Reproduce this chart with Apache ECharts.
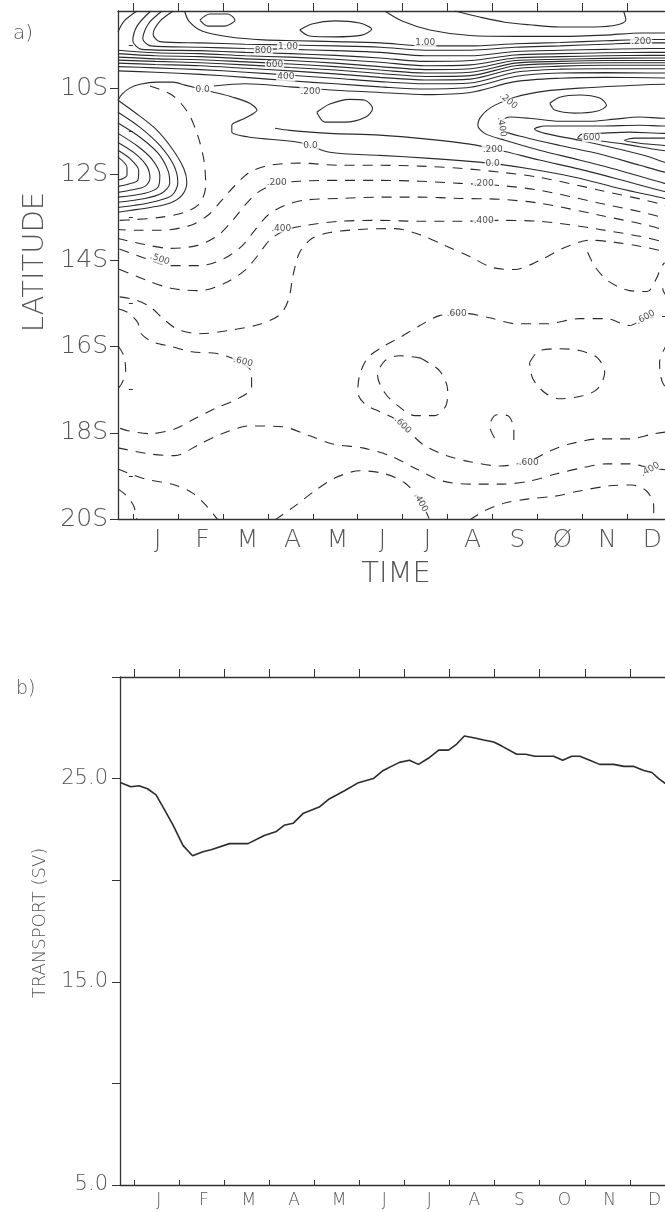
<!DOCTYPE html>
<html>
<head>
<meta charset="UTF-8">
<title>Latitude-time section and transport</title>
<script src="https://cdn.jsdelivr.net/npm/echarts@6/dist/echarts.min.js"></script>
<style>
  html, body { margin: 0; padding: 0; background: #fff; }
  #chart { width: 665px; height: 1212px; }
</style>
</head>
<body>
<div id="chart"></div>
<script>
// axes
var monthsA = ['J', 'F', 'M', 'A', 'M', 'J', 'J', 'A', 'S', 'Ø', 'N', 'D'];
var monthsB = ['J', 'F', 'M', 'A', 'M', 'J', 'J', 'A', 'S', 'O', 'N', 'D'];
var monthTicks = [0, 1, 2, 3, 4, 5, 6, 7, 8, 9, 10, 11];
var monthMids = [0.55, 1.55, 2.55, 3.55, 4.55, 5.55, 6.55, 7.55, 8.55, 9.55, 10.55, 11.55];
var latLabels = [10, 12, 14, 16, 18, 20];
var latMinor = [9, 11, 13, 15, 17, 19];
var transportTicks = [5, 10, 15, 20, 25, 30];
var transportLabels = [5, 15, 25];

// panel a, contours as [month, degrees south]
var topLines = [
  [[-0.33, 8.7], [-0.2, 8.45], [0.09, 8.21]],
  [[1.49, 8.42], [1.71, 8.28], [2.11, 8.28], [2.27, 8.42], [2.04, 8.56], [1.67, 8.56], [1.49, 8.42]],
  [[3.71, 8.65], [3.98, 8.51], [4.49, 8.44], [5.04, 8.49], [5.31, 8.63], [5.09, 8.77], [4.49, 8.81], [3.93, 8.79], [3.71, 8.65]],
  [[7.16, 8.21], [7.71, 8.35], [8.27, 8.47], [8.82, 8.53], [9.49, 8.58], [10.27, 8.58], [10.78, 8.53], [10.96, 8.42], [10.91, 8.21]],
  [[5.6, 8.21], [6.0, 8.45], [6.6, 8.65], [7.5, 8.78], [8.5, 8.8], [9.5, 8.8], [10.5, 8.77], [11.3, 8.72], [12.3, 8.72]],
  [[1.15, 8.21], [1.25, 8.45], [1.55, 8.68], [2.2, 8.82], [2.9, 8.88], [3.6, 8.9], [4.5, 8.92], [5.5, 8.95], [6.5, 9.02], [7.5, 9.02], [8.5, 8.97], [9.5, 8.94], [10.5, 8.9], [11.5, 8.87], [12.3, 8.87]]
];

var bandLines = [
  [[0.9, 8.21], [0.6, 8.45], [0.45, 8.75], [0.6, 8.92], [1.5, 8.95], [2.5, 8.98], [3.5, 9.0], [4.5, 9.02], [5.5, 9.05], [6.5, 9.12], [7.5, 9.12], [8.5, 9.05], [9.5, 9.02], [10.5, 8.98], [11.5, 8.95], [12.3, 8.95]],
  [[0.65, 8.21], [0.35, 8.5], [0.22, 8.85], [0.4, 9.02], [1.5, 9.05], [2.5, 9.08], [3.5, 9.1], [4.5, 9.13], [5.5, 9.17], [6.5, 9.25], [7.5, 9.25], [8.5, 9.15], [9.5, 9.12], [10.5, 9.1], [11.5, 9.08], [12.3, 9.08]],
  [[0.4, 8.21], [0.1, 8.55], [0.0, 8.9], [0.2, 9.1], [1.5, 9.13], [2.5, 9.17], [3.5, 9.2], [4.5, 9.24], [5.5, 9.3], [6.5, 9.38], [7.5, 9.36], [8.5, 9.23], [9.5, 9.2], [10.5, 9.18], [11.5, 9.17], [12.3, 9.17]],
  [[-0.33, 9.12], [0.5, 9.18], [1.5, 9.2], [2.5, 9.25], [3.5, 9.28], [4.5, 9.33], [5.5, 9.4], [6.5, 9.48], [7.5, 9.46], [8.5, 9.3], [9.5, 9.27], [10.5, 9.25], [11.5, 9.24], [12.3, 9.24]],
  [[-0.33, 9.2], [0.5, 9.25], [1.5, 9.27], [2.5, 9.32], [3.5, 9.36], [4.5, 9.42], [5.5, 9.5], [6.5, 9.57], [7.5, 9.55], [8.5, 9.36], [9.5, 9.33], [10.5, 9.31], [11.5, 9.3], [12.3, 9.3]],
  [[-0.33, 9.28], [0.5, 9.32], [1.5, 9.34], [2.5, 9.39], [3.5, 9.44], [4.5, 9.5], [5.5, 9.58], [6.5, 9.65], [7.5, 9.63], [8.5, 9.42], [9.5, 9.38], [10.5, 9.36], [11.5, 9.36], [12.3, 9.36]],
  [[-0.33, 9.35], [0.5, 9.38], [1.5, 9.41], [2.5, 9.46], [3.5, 9.52], [4.5, 9.58], [5.5, 9.66], [6.5, 9.73], [7.5, 9.71], [8.5, 9.48], [9.5, 9.43], [10.5, 9.41], [11.5, 9.41], [12.3, 9.41]],
  [[-0.33, 9.42], [0.5, 9.45], [1.5, 9.48], [2.5, 9.54], [3.5, 9.6], [4.5, 9.67], [5.5, 9.75], [6.5, 9.81], [7.5, 9.79], [8.5, 9.55], [9.5, 9.49], [10.5, 9.47], [11.5, 9.47], [12.3, 9.47]],
  [[-0.33, 9.5], [0.5, 9.53], [1.5, 9.57], [2.5, 9.63], [3.5, 9.7], [4.5, 9.77], [5.5, 9.85], [6.5, 9.9], [7.5, 9.88], [8.5, 9.63], [9.5, 9.56], [10.5, 9.55], [11.5, 9.55], [12.3, 9.55]],
  [[-0.33, 9.6], [0.5, 9.63], [1.5, 9.68], [2.5, 9.75], [3.5, 9.83], [4.5, 9.9], [5.5, 9.97], [6.5, 10.02], [7.5, 9.98], [8.5, 9.73], [9.5, 9.65], [10.5, 9.64], [11.5, 9.65], [12.3, 9.65]],
  [[1.8, 9.95], [2.5, 9.9], [3.5, 9.97], [4.5, 10.05], [5.5, 10.1], [6.5, 10.15], [7.5, 10.1], [8.5, 9.85], [9.5, 9.77], [10.5, 9.75], [11.5, 9.76], [12.3, 9.77]]
];

var zeroLine = [[-0.33, 10.28], [-0.24, 10.14], [-0.07, 10.0], [0.16, 9.91], [0.53, 9.86], [0.89, 9.86], [1.16, 9.93], [1.78, 10.09], [2.22, 10.21], [2.6, 10.35], [2.76, 10.51], [2.49, 10.7], [2.2, 10.86], [2.2, 11.02], [2.6, 11.14], [3.71, 11.26], [4.38, 11.49], [5.49, 11.56], [6.6, 11.63], [7.49, 11.7], [8.16, 11.77], [9.04, 11.91], [9.93, 12.09], [10.82, 12.33], [11.82, 12.56], [12.38, 12.7]];

var lobeLines = [
  [[-0.33, 10.28], [0.04, 10.56], [0.49, 10.93], [0.87, 11.4], [1.13, 11.86], [1.2, 12.19], [1.09, 12.49], [0.82, 12.67], [0.38, 12.77], [-0.07, 12.84], [-0.33, 12.88]],
  [[-0.33, 10.56], [0.16, 10.91], [0.6, 11.33], [0.91, 11.79], [1.0, 12.19], [0.87, 12.49], [0.49, 12.63], [0.04, 12.72], [-0.33, 12.77]],
  [[-0.33, 10.81], [0.16, 11.14], [0.56, 11.51], [0.78, 11.91], [0.82, 12.21], [0.64, 12.44], [0.27, 12.56], [-0.33, 12.65]],
  [[-0.33, 11.05], [0.11, 11.35], [0.44, 11.67], [0.6, 12.02], [0.56, 12.3], [0.27, 12.44], [-0.33, 12.53]],
  [[-0.33, 11.26], [0.04, 11.51], [0.31, 11.81], [0.38, 12.09], [0.27, 12.28], [-0.07, 12.37], [-0.33, 12.42]],
  [[-0.33, 11.44], [-0.07, 11.63], [0.13, 11.91], [0.11, 12.14], [-0.11, 12.23], [-0.33, 12.28]],
  [[-0.33, 11.6], [-0.13, 11.84], [-0.13, 12.02], [-0.33, 12.14]]
];

var rightBand = [
  [[12.38, 9.91], [11.82, 9.91], [10.82, 9.95], [9.93, 10.0], [9.16, 10.07], [8.49, 10.21], [8.04, 10.4], [7.76, 10.63], [7.67, 10.86], [7.82, 11.05], [8.27, 11.21], [9.04, 11.44], [9.93, 11.67], [10.82, 11.91], [11.82, 12.21], [12.38, 12.33]],
  [[12.38, 10.7], [11.82, 10.7], [11.27, 10.67], [10.71, 10.72], [10.16, 10.77], [9.49, 10.77], [8.82, 10.7], [8.38, 10.67], [8.16, 10.81], [8.27, 11.0], [8.71, 11.14], [9.49, 11.33], [10.38, 11.53], [11.27, 11.79], [11.82, 11.95], [12.38, 12.09]],
  [[12.38, 10.88], [11.82, 10.88], [11.27, 10.86], [10.38, 10.88], [9.6, 10.88], [9.16, 10.88], [8.93, 10.95], [9.16, 11.05], [9.93, 11.21], [10.82, 11.42], [11.49, 11.6], [11.82, 11.72], [12.38, 11.84]],
  [[12.38, 11.05], [11.82, 11.05], [11.04, 11.02], [10.38, 11.05], [9.98, 11.07], [9.89, 11.16], [10.27, 11.21], [10.93, 11.3], [11.6, 11.42], [12.38, 11.53]],
  [[12.38, 11.16], [11.71, 11.16], [11.16, 11.16], [10.93, 11.21], [11.27, 11.28], [11.82, 11.33], [12.38, 11.37]],
  [[3.16, 10.93], [3.49, 10.98], [4.38, 11.05], [5.49, 11.09], [6.6, 11.19], [7.49, 11.3], [8.16, 11.44], [9.04, 11.67], [9.93, 11.88], [10.82, 12.12], [11.82, 12.4], [12.38, 12.51]],
  [[9.27, 10.35], [9.49, 10.21], [9.93, 10.16], [10.38, 10.23], [10.53, 10.4], [10.33, 10.53], [9.82, 10.58], [9.38, 10.51], [9.27, 10.35]],
  [[4.09, 10.56], [4.38, 10.37], [4.82, 10.26], [5.16, 10.28], [5.33, 10.47], [5.18, 10.67], [4.71, 10.79], [4.27, 10.79], [4.09, 10.56]]
];

// negative (dashed)
var negRows = [
  [[0.38, 9.95], [0.87, 10.16], [1.22, 10.56], [1.44, 11.09], [1.58, 11.67], [1.62, 12.26], [1.49, 12.67], [1.16, 12.88], [0.6, 13.0], [0.04, 13.05], [-0.33, 13.07]],
  [[12.38, 13.02], [11.82, 12.72], [10.38, 12.37], [9.04, 12.07], [8.16, 11.95], [7.27, 11.86], [6.38, 11.81], [5.49, 11.79], [4.6, 11.79], [3.71, 11.74], [3.04, 11.79], [2.6, 11.95], [2.27, 12.26], [1.98, 12.6], [1.67, 12.95], [1.27, 13.19], [0.6, 13.3], [0.04, 13.3], [-0.33, 13.28]],
  [[12.38, 13.35], [11.82, 13.02], [10.38, 12.67], [9.04, 12.37], [8.16, 12.26], [7.27, 12.21], [6.38, 12.16], [5.49, 12.14], [4.6, 12.14], [3.71, 12.16], [3.16, 12.23], [2.78, 12.42], [2.49, 12.72], [2.22, 13.07], [1.89, 13.42], [1.44, 13.65], [0.82, 13.72], [0.27, 13.63], [-0.33, 13.49]],
  [[12.38, 13.67], [11.82, 13.3], [10.38, 12.95], [9.04, 12.67], [8.16, 12.58], [7.27, 12.56], [6.38, 12.53], [5.49, 12.53], [4.6, 12.56], [3.82, 12.6], [3.38, 12.72], [3.0, 12.95], [2.71, 13.3], [2.44, 13.65], [2.04, 13.95], [1.49, 14.12], [0.82, 14.12], [0.27, 13.95], [-0.33, 13.72]],
  [[12.38, 13.95], [11.82, 13.58], [10.38, 13.28], [9.04, 13.09], [8.16, 13.07], [7.27, 13.09], [6.38, 13.09], [5.49, 13.07], [4.6, 13.09], [3.82, 13.19], [3.38, 13.3], [3.04, 13.53], [2.78, 13.88], [2.49, 14.23], [2.04, 14.53], [1.49, 14.7], [0.87, 14.65], [0.33, 14.47], [-0.33, 14.19]],
  [[12.38, 14.19], [11.82, 13.81], [11.27, 13.67], [10.71, 13.58], [10.16, 13.53], [9.6, 13.7], [9.04, 14.0], [8.49, 14.21], [7.98, 14.16], [7.49, 13.91], [6.93, 13.65], [6.38, 13.4], [5.82, 13.26], [5.04, 13.28], [4.38, 13.35], [3.98, 13.49], [3.71, 13.81], [3.56, 14.35], [3.47, 14.88], [3.27, 15.26], [2.78, 15.49], [2.11, 15.63], [1.49, 15.7], [1.0, 15.6], [0.67, 15.35], [0.38, 15.07], [0.04, 14.91], [-0.33, 14.84]]
];

var negLoops = [
  [[10.11, 13.81], [10.27, 14.14], [10.56, 14.47], [11.04, 14.7], [11.44, 14.72], [11.64, 14.42], [11.73, 14.19], [11.82, 14.05]],
  [[12.0, 14.3], [11.78, 14.65], [12.0, 15.0]],
  [[-0.33, 15.12], [-0.11, 15.21], [0.11, 15.44], [0.16, 15.67], [0.42, 15.88], [0.87, 16.0], [1.31, 16.12], [1.87, 16.16], [2.33, 16.33], [2.64, 16.6], [2.64, 16.95], [2.33, 17.21], [1.82, 17.44], [1.38, 17.67], [0.93, 17.91], [0.38, 18.02], [-0.11, 17.95], [-0.33, 17.88]],
  [[-0.33, 15.98], [-0.2, 16.21], [-0.16, 16.56], [-0.24, 16.84], [-0.33, 16.98]],
  [[12.38, 15.35], [11.82, 15.3], [11.38, 15.35], [11.04, 15.51], [10.53, 15.35], [9.93, 15.35], [9.2, 15.47], [8.53, 15.47], [7.93, 15.33], [7.38, 15.23], [6.82, 15.28], [6.38, 15.51], [5.93, 15.79], [5.56, 16.0], [5.22, 16.26], [5.04, 16.67], [5.0, 17.07], [5.16, 17.33], [5.49, 17.51], [5.82, 17.67], [6.16, 18.0], [6.49, 18.3], [6.98, 18.53], [7.49, 18.67], [8.16, 18.77], [8.82, 18.65], [9.27, 18.42], [9.71, 18.26], [10.38, 18.14], [11.04, 18.14], [11.6, 18.02], [12.38, 17.91]],
  [[6.38, 16.26], [6.82, 16.56], [7.0, 17.02], [6.96, 17.37], [6.71, 17.6], [6.27, 17.6], [5.89, 17.37], [5.6, 17.07], [5.44, 16.67], [5.6, 16.33], [5.93, 16.21], [6.38, 16.26]],
  [[8.82, 16.37], [9.04, 16.09], [9.49, 16.05], [9.93, 16.09], [10.33, 16.26], [10.49, 16.6], [10.33, 16.98], [10.0, 17.14], [9.49, 17.21], [9.16, 17.07], [8.89, 16.74], [8.82, 16.37]],
  [[8.04, 18.12], [7.93, 17.84], [8.09, 17.58], [8.33, 17.6], [8.47, 17.91], [8.47, 18.19]],
  [[11.89, 15.91], [11.71, 16.37], [11.76, 16.79], [11.89, 17.02]]
];

var negLower = [
  [[-0.33, 18.35], [0.38, 18.49], [0.93, 18.53], [1.49, 18.26], [1.98, 18.02], [2.6, 17.84], [3.33, 17.86], [3.93, 18.07], [4.44, 18.26], [5.11, 18.35], [5.71, 18.53], [6.31, 18.84], [6.89, 19.12], [7.56, 19.19], [8.22, 19.19], [8.82, 19.12], [9.42, 18.95], [10.0, 18.81], [10.53, 18.72], [11.04, 18.72], [11.49, 18.81], [12.38, 18.93]],
  [[-0.33, 18.84], [0.27, 19.07], [0.93, 19.21], [1.33, 19.4], [1.64, 19.7], [1.89, 20.02]],
  [[3.16, 20.02], [3.6, 19.7], [4.04, 19.35], [4.49, 19.05], [5.04, 18.88], [5.6, 18.95], [6.04, 19.16], [6.33, 19.47], [6.49, 19.77], [6.6, 20.02]],
  [[7.49, 20.02], [7.82, 19.81], [8.27, 19.63], [8.82, 19.53], [9.38, 19.47], [9.93, 19.35], [10.6, 19.23], [11.09, 19.21], [11.42, 19.35], [11.58, 19.7], [11.58, 20.02]],
  [[-0.33, 19.3], [-0.13, 19.47], [0.02, 19.7], [0.09, 20.02]]
];

// contour labels: month, deg S, text, rotation
var contourLabels = [
  [2.9, 9.12, '800', 0], [3.45, 9.04, '1.00', 0], [3.15, 9.45, '600', 0], [3.4, 9.74, '400', 0],
  [3.95, 10.08, '.200', 0], [1.55, 10.03, '0.0', 0], [3.95, 11.34, '0.0', 0], [3.2, 12.2, '.200', 0],
  [3.3, 13.25, '.400', 0], [0.6, 13.97, '.500', -20], [2.45, 16.35, '.600', -15], [6.5, 8.95, '1.00', 0],
  [11.3, 8.92, '.200', 0], [8.35, 10.3, '.200', -40], [8.2, 10.9, '.400', -80], [10.2, 11.15, '600', 0],
  [8.0, 11.42, '.200', 0], [8.0, 11.76, '0.0', 0], [7.8, 12.22, '.200', 0], [7.8, 13.08, '.400', 0],
  [7.2, 15.24, '.600', 0], [6.0, 17.82, '.600', -45], [8.8, 18.7, '.600', 0], [11.5, 18.85, '.400', 30],
  [11.4, 15.32, '.600', 30], [6.4, 19.62, '.400', -60]
];

// panel b
var transportTime = [-0.29, -0.07, 0.11, 0.3, 0.49, 0.67, 0.87, 1.09, 1.3, 1.53, 1.71, 2.12, 2.53, 2.89, 3.16, 3.33, 3.53, 3.76, 4.11, 4.33, 4.67, 4.98, 5.31, 5.53, 5.71, 5.89, 6.11, 6.31, 6.53, 6.76, 6.98, 7.16, 7.33, 7.56, 7.76, 7.98, 8.16, 8.49, 8.69, 8.89, 9.11, 9.31, 9.51, 9.71, 9.89, 10.11, 10.33, 10.64, 10.87, 11.09, 11.31, 11.49, 11.64, 11.82];
var transport = [24.8, 24.6, 24.65, 24.5, 24.2, 23.5, 22.7, 21.7, 21.2, 21.4, 21.5, 21.8, 21.8, 22.2, 22.4, 22.7, 22.8, 23.3, 23.6, 24.0, 24.4, 24.8, 25.0, 25.4, 25.6, 25.8, 25.9, 25.7, 26.0, 26.4, 26.4, 26.7, 27.1, 27.0, 26.9, 26.8, 26.6, 26.2, 26.2, 26.1, 26.1, 26.1, 25.9, 26.1, 26.1, 25.9, 25.7, 25.7, 25.6, 25.6, 25.4, 25.3, 25.0, 24.7];

var font = 'DejaVu Sans';
var ink = '#2b2b2b';
var textInk = '#555';

function contourSeries(lines, dashed) {
  return lines.map(function (pts) {
    return {
      type: 'line',
      xAxisIndex: 0,
      yAxisIndex: 0,
      data: pts,
      showSymbol: false,
      smooth: 0.3,
      silent: true,
      lineStyle: { color: ink, width: 1.1, type: dashed ? [10, 8] : 'solid' },
      z: 2
    };
  });
}

var series = [].concat(
  contourSeries(topLines, false),
  contourSeries(bandLines, false),
  contourSeries([zeroLine], false),
  contourSeries(lobeLines, false),
  contourSeries(rightBand, false),
  contourSeries(negRows, true),
  contourSeries(negLoops, true),
  contourSeries(negLower, true)
);

series.push({
  type: 'scatter',
  xAxisIndex: 0,
  yAxisIndex: 0,
  symbolSize: 1,
  itemStyle: { color: 'rgba(0,0,0,0)' },
  silent: true,
  z: 5,
  data: contourLabels.map(function (d) {
    return { value: [d[0], d[1]], name: d[2], label: { rotate: d[3] } };
  }),
  label: {
    show: true,
    position: 'inside',
    formatter: '{b}',
    fontSize: 9,
    fontFamily: font,
    color: '#222',
    backgroundColor: '#fff',
    padding: [0, 1]
  }
});

series.push({
  type: 'line',
  xAxisIndex: 2,
  yAxisIndex: 2,
  data: transportTime.map(function (t, i) { return [t, transport[i]]; }),
  showSymbol: false,
  silent: true,
  lineStyle: { color: ink, width: 1.6 }
});

function monthAxis(grid, pos, min, max, names, size, margin) {
  return {
    gridIndex: grid,
    type: 'value',
    position: pos,
    min: min,
    max: max,
    axisLine: { show: true, onZero: false, lineStyle: { color: '#333', width: 1.3 } },
    axisTick: {
      show: true,
      inside: pos === 'bottom',
      length: pos === 'bottom' ? 5 : 8,
      customValues: monthTicks,
      lineStyle: { color: '#333' }
    },
    axisLabel: names ? {
      customValues: monthMids,
      formatter: function (v) { return names[Math.floor(v)]; },
      fontSize: size,
      fontFamily: font,
      fontWeight: 200,
      color: textInk,
      margin: margin
    } : { show: false },
    splitLine: { show: false }
  };
}

var chart = echarts.init(document.getElementById('chart'), null, { renderer: 'canvas' });
chart.setOption({
  animation: false,
  backgroundColor: '#fff',
  grid: [
    { left: 118, top: 11, width: 547, height: 508 },
    { left: 120, top: 677, width: 545, height: 508 }
  ],
  xAxis: [
    monthAxis(0, 'bottom', -0.33, 11.82, monthsA, 25, 9),
    monthAxis(0, 'top', -0.33, 11.82, null),
    monthAxis(1, 'bottom', -0.31, 11.78, monthsB, 17, 7),
    monthAxis(1, 'top', -0.31, 11.78, null)
  ],
  yAxis: [
    {
      gridIndex: 0, type: 'value', position: 'left', inverse: true, min: 8.21, max: 20,
      axisLine: { show: true, onZero: false, lineStyle: { color: '#333', width: 1.3 } },
      axisTick: { show: true, length: 8, customValues: latLabels, lineStyle: { color: '#333' } },
      axisLabel: {
        customValues: latLabels,
        formatter: function (v) { return v + 'S'; },
        fontSize: 25, fontFamily: font, fontWeight: 200, color: textInk, margin: 10
      },
      splitLine: { show: false }
    },
    {
      gridIndex: 0, type: 'value', position: 'left', offset: 0, inverse: true, min: 8.21, max: 20,
      axisLine: { show: false },
      axisTick: { show: true, length: 4, customValues: latMinor, lineStyle: { color: '#333' } },
      axisLabel: { show: false },
      splitLine: { show: false }
    },
    {
      gridIndex: 1, type: 'value', position: 'left', min: 5, max: 30,
      axisLine: { show: true, onZero: false, lineStyle: { color: '#333', width: 1.3 } },
      axisTick: { show: true, length: 8, customValues: transportTicks, lineStyle: { color: '#333' } },
      axisLabel: {
        customValues: transportLabels,
        formatter: function (v) { return v.toFixed(1); },
        fontSize: 21, fontFamily: font, fontWeight: 200, color: textInk, margin: 12
      },
      splitLine: { show: false }
    }
  ],
  graphic: [
    { type: 'text', left: 13, top: 24, style: { text: 'a)', font: '200 20px "DejaVu Sans"', fill: textInk } },
    { type: 'text', left: 16, top: 680, style: { text: 'b)', font: '200 19px "DejaVu Sans"', fill: textInk } },
    { type: 'text', x: 396, y: 574, style: { text: 'TIME', font: '200 29px "DejaVu Sans"', fill: textInk, align: 'center', verticalAlign: 'middle' } },
    { type: 'text', x: 35, y: 262, rotation: Math.PI / 2, style: { text: 'LATITUDE', font: '200 29px "DejaVu Sans"', fill: textInk, align: 'center', verticalAlign: 'middle' } },
    { type: 'text', x: 40, y: 923, rotation: Math.PI / 2, style: { text: 'TRANSPORT (SV)', font: '200 18px "DejaVu Sans"', fill: textInk, align: 'center', verticalAlign: 'middle' } }
  ],
  series: series
});
</script>
</body>
</html>
